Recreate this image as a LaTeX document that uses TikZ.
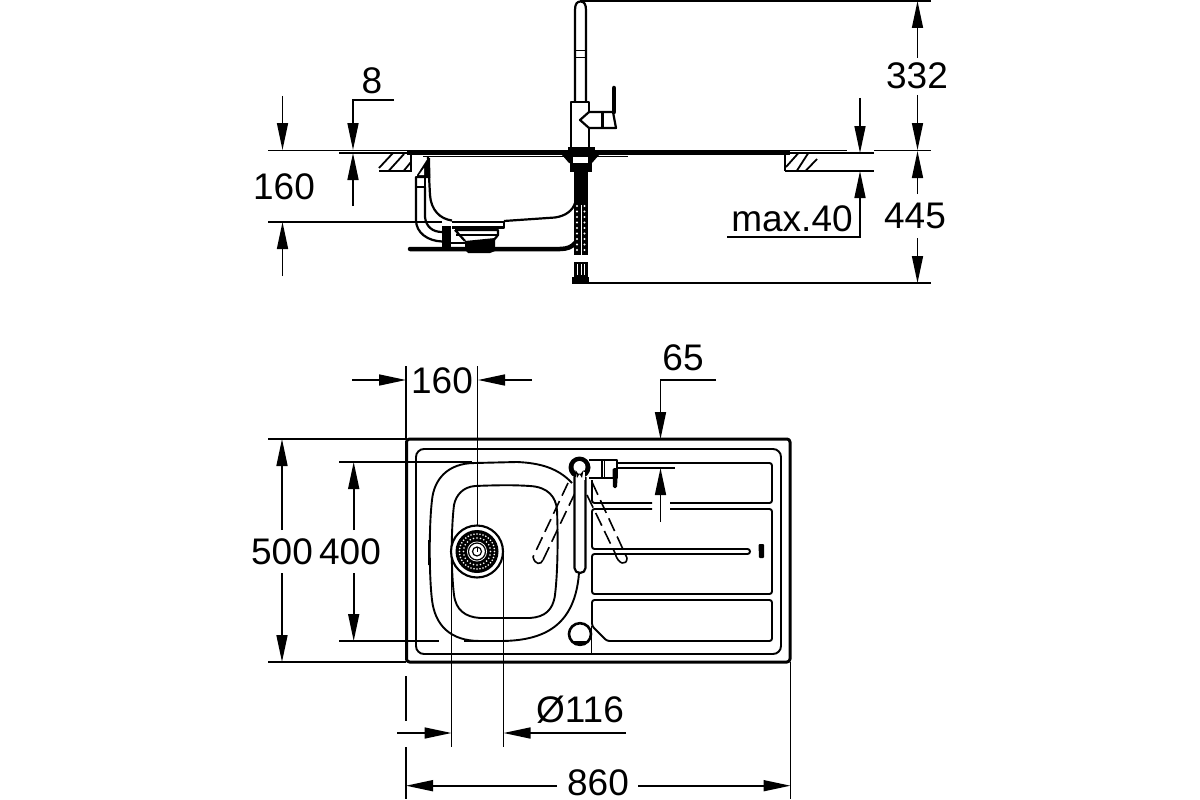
\documentclass[tikz,border=0pt]{standalone}
\usepackage{fontspec}
\setmainfont{Liberation Sans}
\usetikzlibrary{arrows.meta}
\tikzset{
  x=1pt,y=-1pt,
  thinline/.style={line width=1.6pt,line cap=butt},
  dimtip/.style={thinline,-{Triangle[length=27pt,width=11pt]}},
  body/.style={line width=2.2pt,line join=round},
  heavy/.style={line width=3pt,line join=round},
  basin/.style={line width=1.9pt},
  hatchline/.style={line width=1.8pt},
  swing/.style={line width=1.6pt,dash pattern=on 14pt off 6pt},
  dimtext/.style={inner sep=0pt,font=\fontsize{37}{37}\selectfont},
}
\begin{document}
\begin{tikzpicture}
\useasboundingbox (0,0) rectangle (1200,800);
\fill[white] (0,0) rectangle (1200,800);

% ---------- side view: faucet ----------
\draw[body,fill=white] (575,102) -- (575,10) .. controls (575,4) and (577,1.5) .. (580.5,1.5) .. controls (584,1.5) and (586,4) .. (586,10) -- (586,102);
\draw[line width=1.5pt] (575,50.5) -- (586,50.5) (575,57.5) -- (586,57.5);
\draw[body] (589,112) -- (589,102) -- (571,102) -- (571,148) (589,128) -- (589,148);
\draw[body] (589,112) -- (580,120) -- (589,128);
\draw[body] (589,112) -- (613,112) -- (616,128) -- (589,128);
\draw[heavy] (602,112) -- (602,128);
\draw[line width=4.5pt,line cap=round] (614,88) -- (614,112);
\fill (568,147) rectangle (595,153);

% ---------- side view: worktop and sink ----------
\fill (407,149.5) -- (790,149.5) -- (790,155) -- (407,155) -- cycle;
\draw[line width=1.8pt] (423,156.5) -- (628,156.5);
\draw[thinline] (339,153) -- (407,153);
\draw[thinline] (268,150.5) -- (407,150.5);
\draw[thinline] (790,150.5) -- (847,150.5);
\draw[thinline] (790,153) -- (874,153);
\draw[thinline] (785,171) -- (874,171);
\draw[hatchline] (379,153) -- (411,153) -- (411,171) -- (379,171);
\draw[hatchline] (379,168) -- (393,153) (389,170.5) -- (404,154) (404,170.5) -- (411,162);
\draw[hatchline] (785,153) -- (785,171);
\draw[hatchline] (786,167) -- (798,153.5) (797,170.5) -- (808,153.5) (806,170.5) -- (817,159);
% basin
\draw[body] (428,157) -- (430,195) .. controls (431,210) and (440,219) .. (452,220.5);
\draw[body] (504,221) -- (555,217.5) .. controls (566,216) and (573,210) .. (575,203);
% overflow
\draw[body] (416,177) -- (416,220) .. controls (416,233) and (428,241) .. (442,241.5);
\draw[body] (425,187) -- (425,217) .. controls (426,227) and (433,232) .. (442,232);
\draw[body] (416,177) rectangle (425,187);
\fill (428,158) -- (417,175) -- (417,178) -- (430.5,178) -- (430,158) -- cycle;
\fill[white] (424,168) -- (419,175) -- (424,175) -- cycle;
% drain
\fill (442,226) rectangle (451,247);
\draw[body] (452,222) -- (504,222) -- (504,228) -- (452,228);
\draw[line width=3pt] (452,227) -- (504,227);
\draw[body] (455,230) -- (498,230) -- (498,235) -- (493,241) (455,230) -- (465,241);
\draw[body] (456,235) -- (498,235);
\fill (465,241) -- (495,238) -- (495,251) -- (490,253) -- (468,253) -- (465,250) -- cycle;
\draw[line width=1.8pt] (451,243) -- (465,243);
\draw[line width=4.5pt,line cap=round] (410,249) -- (560,249) .. controls (567,249) and (572,247) .. (575,243);
% mounting stem
\fill (562,155) -- (599,155) -- (592,163) -- (569,163) -- cycle;
\fill[white] (573,157) rectangle (588,163);
\fill (569.5,163) rectangle (592,172);
\fill (574,172) rectangle (588,255);
\fill[white] (580.5,205) rectangle (581.5,255);
\foreach \yy in {206,211.5,...,254} {
  \fill[white] (577,\yy) circle[radius=1.1];
  \fill[white] (584.5,\yy) circle[radius=1.1];
}
\fill (574,262) rectangle (588,278);
\fill[white] (577,264) rectangle (578,275);
\fill[white] (580.5,264) rectangle (581.5,275);
\fill[white] (584,264) rectangle (585,275);
\fill (572,277) rectangle (589,283.5);

% ---------- side view: dimensions ----------
\draw[thinline] (268,221.7) -- (442,221.7);
\draw[dimtip] (282.5,96) -- (282.5,150);
\draw[dimtip] (282.5,276) -- (282.5,222);
\node[dimtext] (lbA) at (284,187) {160};
\draw[dimtip] (394,100) -- (353,100) -- (353,150);
\draw[dimtip] (353,206) -- (353,153);
\node[dimtext] (lbB) at (372,81) {8};
\draw[thinline] (580,1) -- (931,1);
\draw[thinline] (874,150.5) -- (931,150.5);
\draw[thinline] (589,283) -- (931,283);
\draw[dimtip] (917.5,58) -- (917.5,1);
\draw[dimtip] (917.5,95) -- (917.5,150);
\draw[dimtip] (917.5,194) -- (917.5,151);
\draw[dimtip] (917.5,238) -- (917.5,283);
\node[dimtext] (lbC) at (917,76) {332};
\node[dimtext] (lbD) at (915,216) {445};
\draw[dimtip] (860,98) -- (860,153);
\draw[dimtip] (727,237) -- (860,237) -- (860,171);
\node[dimtext] (lbE) at (792,219) {max.40};

% ---------- top view: sink outline ----------
\draw[heavy,rounded corners=3pt] (406.5,439) rectangle (790,662);
\draw[basin,rounded corners=8pt] (416,449) rectangle (781,654);
\draw[basin] (572,483) .. controls (558,468) and (540,463) .. (517,462) -- (475,463)
  .. controls (447,463) and (434,480) .. (432,500)
  .. controls (429,525) and (429,575) .. (432,600)
  .. controls (435,625) and (450,641) .. (480,641) -- (500,641)
  .. controls (545,641) and (575,625) .. (579,573);
\draw[line width=2.8pt] (429,540) -- (429,565);
\draw[basin] (475,486) .. controls (500,485) and (515,485) .. (530,486)
  .. controls (548,487) and (556,497) .. (557,510)
  .. controls (558,535) and (558,570) .. (555,595)
  .. controls (553,610) and (545,617) .. (530,618) -- (480,618)
  .. controls (465,617) and (456,610) .. (454,595)
  .. controls (451,570) and (451,530) .. (454,505)
  .. controls (456,495) and (463,487) .. (475,486);

% drainer panels
\draw[basin,rounded corners=2.5pt] (617,463) -- (772,463) -- (772,503) -- (670,503);
\draw[basin,rounded corners=2.5pt] (652,503) -- (592,503) -- (592,480);
\draw[basin,rounded corners=2.5pt] (652,509) -- (592,509) -- (592,549) -- (750,549) -- (750,554) -- (592,554) -- (592,594) -- (772,594) -- (772,509) -- (670,509);
\draw[basin,rounded corners=2.5pt] (592,626) -- (592,600) -- (772,600) -- (772,641) -- (607,641) -- cycle;
\draw[line width=1.6pt] (591.5,626) -- (591.5,654);
\fill[rounded corners=1pt] (758.5,544) -- (764,544) -- (764,558) -- (759,558) -- cycle;

% waste hole
\draw[line width=2.6pt,fill=white] (580,634) ellipse[x radius=11,y radius=10.8];
\fill (572,641) -- (588,641) -- (585,645) -- (575,645) -- cycle;

% swung spouts
\draw[swing] (568,483) -- (533,557);
\draw[swing] (575,493) -- (543,560);
\draw[line width=1.6pt] (533,557) .. controls (535,565) and (541,565) .. (543,560);
\draw[swing] (592,482) -- (627,558);
\draw[swing] (587,495) -- (615,553);
\draw[line width=1.6pt] (615,553) .. controls (618,565) and (627,566) .. (627,558);

% faucet in plan
\draw[body] (589,460) -- (617,460) -- (617,478) -- (589,478);
\draw[body] (602,460) -- (602,478);
\draw[line width=1.5pt] (604.5,460) -- (604.5,478);
\fill[rounded corners=1.5pt] (612.5,468) -- (617.5,468) -- (617.5,478) -- (617,488) -- (613,488) -- cycle;
\fill (579.5,467.5) circle[radius=11];
\fill[white] (579.5,467) circle[radius=6];
\draw[body,fill=white] (574.5,477) -- (574.5,568) .. controls (574.5,571) and (577,573) .. (580,573) .. controls (583,573) and (585.5,571) .. (585.5,568) -- (585.5,477);
\fill[white] (575.5,472) rectangle (584.5,480);
\fill (575.5,470) -- (577,478) -- (579.5,474) -- (582,478) -- (583.5,470) -- (581,473.5) -- (578,473.5) -- cycle;

% drain in plan
\draw[line width=2.1pt,fill=white] (477,551.5) circle[radius=26];
\fill (477,551.5) circle[radius=21.5];
\foreach \aa in {0,10,...,350} { \fill[white] (477,551.5) ++(\aa:17.5) circle[radius=.9]; }
\foreach \aa in {0,15,...,345} { \fill[white] (477,551.5) ++(\aa:13.5) circle[radius=.9]; }
\fill[white] (477,551.5) circle[radius=10];
\draw[line width=1.2pt] (477,551.5) circle[radius=8.5];
\draw[line width=1.2pt] (477,551.5) circle[radius=4.5];
\draw[line width=1pt] (477,548) -- (477,551.5);

% ---------- top view: dimensions ----------
\draw[thinline] (406,366) -- (406,439);
\draw[thinline] (477.5,366) -- (477.5,526);
\draw[dimtip] (352,380) -- (406,380);
\draw[dimtip] (532,380) -- (478,380);
\node[dimtext] (lbF) at (442,381) {160};
\draw[thinline] (268,439) -- (406,439);
\draw[thinline] (268,662) -- (406,662);
\draw[dimtip] (282,530) -- (282,439);
\draw[dimtip] (282,573) -- (282,662);
\node[dimtext] (lbG) at (282,552) {500};
\draw[thinline] (339,462) -- (472,462);
\draw[thinline] (339,641) -- (439,641);
\draw[thinline] (464,641) -- (500,641);
\draw[dimtip] (353.7,530) -- (353.7,462);
\draw[dimtip] (353.7,573) -- (353.7,641);
\node[dimtext] (lbH) at (350,552) {400};
\draw[dimtip] (716,380) -- (660.5,380) -- (660.5,439);
\node[dimtext] (lbI) at (683,358) {65};
\draw[thinline] (617,468) -- (675,468);
\draw[dimtip] (660.5,522) -- (660.5,468);
% lower dimensions
\draw[thinline] (451.5,551) -- (451.5,747);
\draw[thinline] (503.5,551) -- (503.5,747);
\draw[dimtip] (397,733) -- (451.5,733);
\draw[dimtip] (626,733) -- (503.5,733);
\node[dimtext] (lbJ) at (580,710) {Ø116};
\draw[thinline] (406,676) -- (406,721);
\draw[thinline] (406,747) -- (406,799);
\draw[thinline] (790.5,662) -- (790.5,799);
\draw[dimtip] (557,785.7) -- (406,785.7);
\draw[dimtip] (638,785.7) -- (790.5,785.7);
\node[dimtext] (lbK) at (598,783) {860};
\end{tikzpicture}
\end{document}
